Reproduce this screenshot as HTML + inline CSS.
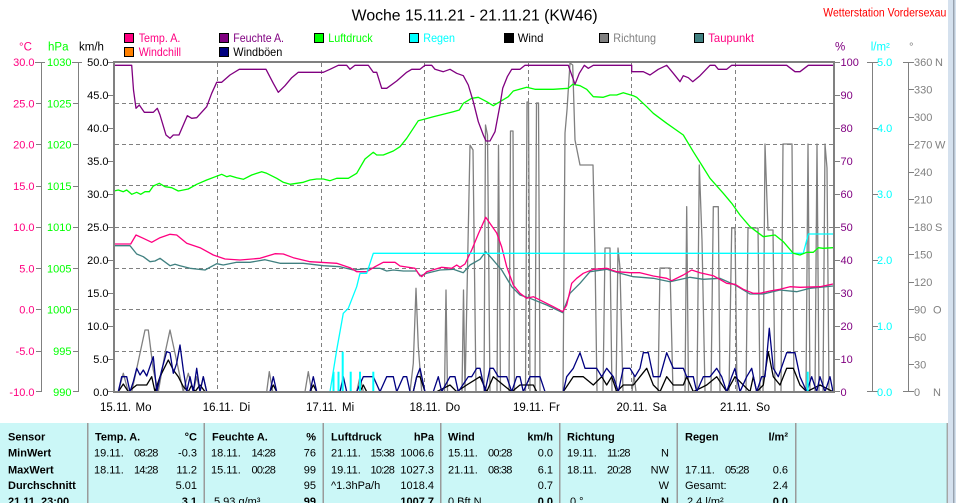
<!DOCTYPE html>
<html><head><meta charset="utf-8"><style>
html,body{margin:0;padding:0;background:#fff;}
svg{display:block;}
text{font-family:"Liberation Sans",Arial,sans-serif;}
.t{letter-spacing:-0.8px;}
</style></head><body>
<svg width="956" height="503" viewBox="0 0 956 503" xmlns="http://www.w3.org/2000/svg">
<rect x="0" y="0" width="956" height="503" fill="#fff"/>
<!-- right strip -->
<rect x="948" y="0" width="8" height="503" fill="#d5e1ee"/>
<rect x="953.3" y="0" width="1" height="503" fill="#7d8894"/>

<!-- title -->
<text x="351.7" y="20.5" font-size="15.5" fill="#000" textLength="246" lengthAdjust="spacingAndGlyphs">Woche 15.11.21 - 21.11.21 (KW46)</text>
<text x="823.3" y="16.7" font-size="11.5" fill="#ff0000" textLength="123" lengthAdjust="spacingAndGlyphs">Wetterstation Vordersexau</text>

<!-- legend -->
<g stroke="#000" stroke-width="1">
<rect x="124.5" y="33.5" width="9" height="9" fill="#ff0080"/>
<rect x="124.5" y="47.5" width="9" height="9" fill="#ff8000"/>
<rect x="219.5" y="33.5" width="9" height="9" fill="#800080"/>
<rect x="219.5" y="47.5" width="9" height="9" fill="#000080"/>
<rect x="314.5" y="33.5" width="9" height="9" fill="#00ff00"/>
<rect x="409.5" y="33.5" width="9" height="9" fill="#00ffff"/>
<rect x="504.5" y="33.5" width="9" height="9" fill="#000000"/>
<rect x="599.5" y="33.5" width="9" height="9" fill="#808080"/>
<rect x="694.5" y="33.5" width="9" height="9" fill="#408080"/>
</g>
<g font-size="12">
<text x="138.7" y="42" fill="#ff0080" textLength="41.7" lengthAdjust="spacingAndGlyphs">Temp. A.</text>
<text x="138.7" y="56" fill="#ff0080" textLength="42.3" lengthAdjust="spacingAndGlyphs">Windchill</text>
<text x="233.3" y="42" fill="#800080" textLength="50.7" lengthAdjust="spacingAndGlyphs">Feuchte A.</text>
<text x="233.3" y="56" fill="#000000" textLength="49" lengthAdjust="spacingAndGlyphs">Windböen</text>
<text x="328.3" y="42" fill="#00ff00" textLength="44.3" lengthAdjust="spacingAndGlyphs">Luftdruck</text>
<text x="423.3" y="42" fill="#00ffff" textLength="31.7" lengthAdjust="spacingAndGlyphs">Regen</text>
<text x="517.7" y="42" fill="#000000" textLength="25.7" lengthAdjust="spacingAndGlyphs">Wind</text>
<text x="613.3" y="42" fill="#808080" textLength="42.7" lengthAdjust="spacingAndGlyphs">Richtung</text>
<text x="708.3" y="42" fill="#ff0080" textLength="45.7" lengthAdjust="spacingAndGlyphs">Taupunkt</text>
</g>

<!-- axis headers -->
<g font-size="11.5">
<text x="19" y="50.5" fill="#ff0080">°C</text>
<text x="48" y="50.5" fill="#00ff00">hPa</text>
<text x="79" y="50.5" fill="#000">km/h</text>
<text x="835" y="50.5" fill="#800080">%</text>
<text x="870.7" y="50.5" fill="#00ffff">l/m²</text>
<text x="909" y="50.5" fill="#808080">°</text>
</g>

<!-- axis lines & ticks -->
<g stroke="#808080" stroke-width="1" fill="none">
<path d="M41.5 62V392 M78.5 62V392 M872.5 62V392 M908.5 62V392"/>
<path d="M35 62.5H45 M36 103.5H41 M36 144.5H41 M36 186.5H41 M36 227.5H41 M36 268.5H41 M36 309.5H41 M36 351.5H41 M36 391.5H41"/>
<path d="M72 62.5H82 M73 103.5H78 M73 144.5H78 M73 186.5H78 M73 227.5H78 M73 268.5H78 M73 309.5H78 M73 351.5H78 M73 391.5H78"/>
<path d="M108 62.5H113 M108 95.5H113 M108 128.5H113 M108 161.5H113 M108 194.5H113 M108 227.5H113 M108 260.5H113 M108 293.5H113 M108 326.5H113 M108 359.5H113 M108 391.5H113"/>
<path d="M835 62.5H840 M835 95.5H840 M835 128.5H840 M835 161.5H840 M835 194.5H840 M835 227.5H840 M835 260.5H840 M835 293.5H840 M835 326.5H840 M835 359.5H840 M835 391.5H840"/>
<path d="M867 62.5H878 M873 128.5H878 M873 194.5H878 M873 260.5H878 M873 326.5H878 M867 391.5H878"/>
<path d="M903 62.5H914 M909 89.5H914 M909 117.5H914 M909 144.5H914 M909 172.5H914 M909 199.5H914 M909 227.5H914 M909 254.5H914 M909 282.5H914 M909 309.5H914 M909 337.5H914 M909 364.5H914 M903 391.5H914"/>
</g>

<!-- left tick labels -->
<g font-size="11" fill="#ff0080" text-anchor="end">
<text x="34.5" y="66">30.0</text><text x="34.5" y="107.3">25.0</text><text x="34.5" y="148.5">20.0</text><text x="34.5" y="189.8">15.0</text><text x="34.5" y="231">10.0</text><text x="34.5" y="272.3">5.0</text><text x="34.5" y="313.5">0.0</text><text x="34.5" y="354.8">-5.0</text><text x="34.5" y="396">-10.0</text>
</g>
<g font-size="11" fill="#00ff00" text-anchor="end">
<text x="71.5" y="66">1030</text><text x="71.5" y="107.3">1025</text><text x="71.5" y="148.5">1020</text><text x="71.5" y="189.8">1015</text><text x="71.5" y="231">1010</text><text x="71.5" y="272.3">1005</text><text x="71.5" y="313.5">1000</text><text x="71.5" y="354.8">995</text><text x="71.5" y="396">990</text>
</g>
<g font-size="11" fill="#000" text-anchor="end">
<text x="108.5" y="66">50.0</text><text x="108.5" y="99">45.0</text><text x="108.5" y="132">40.0</text><text x="108.5" y="165">35.0</text><text x="108.5" y="198">30.0</text><text x="108.5" y="231">25.0</text><text x="108.5" y="264">20.0</text><text x="108.5" y="297">15.0</text><text x="108.5" y="330">10.0</text><text x="108.5" y="363">5.0</text><text x="108.5" y="396">0.0</text>
</g>
<!-- right tick labels -->
<g font-size="11" fill="#800080">
<text x="840.5" y="66">100</text><text x="840.5" y="99">90</text><text x="840.5" y="132">80</text><text x="840.5" y="165">70</text><text x="840.5" y="198">60</text><text x="840.5" y="231">50</text><text x="840.5" y="264">40</text><text x="840.5" y="297">30</text><text x="840.5" y="330">20</text><text x="840.5" y="363">10</text><text x="840.5" y="396">0</text>
</g>
<g font-size="11" fill="#00ffff">
<text x="877" y="66">5.0</text><text x="877" y="132">4.0</text><text x="877" y="198">3.0</text><text x="877" y="264">2.0</text><text x="877" y="330">1.0</text><text x="877" y="396">0.0</text>
</g>
<g font-size="11" fill="#808080">
<text x="914" y="66">360</text><text x="914" y="93.5">330</text><text x="914" y="121">300</text><text x="914" y="148.5">270</text><text x="914" y="176">240</text><text x="914" y="203.5">210</text><text x="914" y="231">180</text><text x="914" y="258.5">150</text><text x="914" y="286">120</text><text x="914" y="313.5">90</text><text x="914" y="341">60</text><text x="914" y="368.5">30</text><text x="914" y="396">0</text>
<text x="935" y="66">N</text><text x="935" y="148.5">W</text><text x="935" y="231">S</text><text x="933" y="313.5">O</text><text x="933" y="396">N</text>
</g>

<!-- plot area -->
<rect x="114" y="62" width="720" height="330" fill="#fff"/>
<g stroke="#808080" stroke-width="1" stroke-dasharray="4 3" fill="none">
<path d="M115 103.5H833 M115 144.5H833 M115 185.5H833 M115 227.5H833 M115 268.5H833 M115 309.5H833 M115 351.5H833"/>
<path d="M217.5 63V391 M321.5 63V391 M424.5 63V391 M528.5 63V391 M631.5 63V391 M735.5 63V391"/>
</g>

<g fill="none" stroke-width="1.3" stroke-linejoin="round">
<!-- direction -->
<polyline stroke="#808080" points="114,391.7 118.3,391.7 123.3,373.3 128.3,391.7 131.7,391.7 135,376.7 140,353.3 145,330 148.3,330 153.3,370 158.3,391.7 165,353.3 170,330 175,353.3 180,376.7 183.3,391.7 188.3,373.3 193.3,391.7 196.7,376.7 200,391.7 203.3,376.7 206.7,391.7 266.7,391.7 269.3,371.7 272.7,391.7 305,391.7 308.3,371.7 311.7,391.7 356.7,391.7 360,376.7 363.3,391.7 410,391.7 413.3,363.3 416,288.3 418.3,346.7 421.7,391.7 444.5,391.7 446,290 447.5,391.7 462,391.7 463.5,290 465,391.7 470,145 473,150 476,391.7 484,391.7 485.5,125 487.5,135 490,391.7 497,391.7 498.5,145 500.5,391.7 509,391.7 510.5,131 513,131 514.5,391.7 525.5,391.7 527,102 528.5,102 530,391.7 535,391.7 536.5,103 538.5,103 540,391.7 563,391.7 565,133 567,110 570,63 572.7,65 575,140 580,165 593,165 595,255 597,391.7 603,391.7 605,248 610,248 612,391.7 616,391.7 618,248 620,268 623,391.7 632,391.7 634,375 636,391.7 658,391.7 660,268 670,268 673,391.7 685,391.7 686.7,206.7 688.5,391.7 697,391.7 699.3,165 702,240 705,391.7 711,391.7 713.3,206.7 718.3,206.7 720,391.7 729,391.7 731.7,228 735,228 737,391.7 746,391.7 748,228 758,228 760,391.7 763,391.7 765,144 768,230 773,230 775,391.7 781,391.7 783,144 792,144 794,391.7 806,391.7 808,144 810,391.7 815,391.7 817,144 819,391.7 823,391.7 825,144 827,168 829,391.7 833,391.7"/>
<!-- wind -->
<polyline stroke="#000000" points="114,391.7 118.3,391.7 123.3,384 128.3,391.7 136.7,385 146.7,385 151.7,376.7 155,391.7 160,376.7 168.3,360 173.3,370 178.3,376.7 183.3,386.7 188.3,391.7 191.7,385 195,391.7 200,385 205,391.7 270,391.7 273.3,385 276.7,391.7 310,391.7 313.3,385 316.7,391.7 360,391.7 363.3,385 366.7,391.7 413.3,391.7 416.7,376.7 420,376.7 425,391.7 436.7,391.7 450,385 456.7,391.7 466.7,385 480,376.7 486.7,391.7 493.3,376.7 503.3,385 511.7,391.7 520,385 533.3,385 536.7,391.7 563.3,391.7 573.3,376.7 583.3,376.7 593.3,385 601.7,376.7 606.7,385 611.7,376.7 616.7,391.7 623.3,385 633.3,385 640,376.7 646.7,368.3 653.3,385 660,391.7 666.7,376.7 673.3,385 683.3,385 686.7,376.7 693.3,391.7 706.7,385 716.7,376.7 726.7,391.7 735,376.7 750,391.7 753.3,376.7 756.7,391.7 763.3,385 768.3,351.7 773.3,376.7 780,385 786.7,368.3 793.3,368.3 800,385 806.7,391.7 820,385 833,391.7"/>
<!-- gusts -->
<polyline stroke="#000080" points="114,391.7 118.3,391.7 121.7,376.7 126.7,376.7 130,391.7 133.3,381.7 136.7,368.3 140,375 143.3,370 146.7,376 153.3,356.7 156.7,391.7 161.7,370 166.7,351.7 170,352.7 173.3,373.3 176.7,363.3 180,345 183.3,370 186.7,391.7 190,376.7 193.3,391.7 196.7,368.3 200,391.7 203.3,376.7 206.7,391.7 270,391.7 273.3,376.7 276.7,391.7 310,391.7 313.3,376.7 316.7,391.7 340,391.7 343.3,376.7 346.7,391.7 356.7,391.7 363.3,376.7 373.3,376.7 380,391.7 386.7,376.7 393.3,376.7 396.7,391.7 403.3,376.7 406.7,376.7 410,391.7 413.3,391.7 416.7,376.7 420,368.3 425,391.7 433.3,391.7 438.3,376.7 441.7,391.7 450,376.7 455,376.7 458.3,391.7 468.3,376.7 471.7,376.7 476.7,368.3 480,368.3 485,391.7 490,368.3 493.3,368.3 498.3,376.7 506.7,376.7 511.7,391.7 516.7,376.7 520,376.7 523.3,391.7 530,376.7 540,376.7 545,391.7 563.3,391.7 566.7,376.7 573.3,368.3 580,352.7 585,368.3 596.7,368.3 601.7,376.7 606.7,368.3 613.3,376.7 618.3,391.7 623.3,368.3 630,368.3 635,376.7 640,368.3 643.3,352.7 648.3,352.7 653.3,376.7 660,376.7 666.7,352.7 673.3,368.3 683.3,368.3 686.7,376.7 693.3,376.7 696.7,391.7 703.3,376.7 710,376.7 716.7,368.3 721.7,376.7 726.7,391.7 731.7,376.7 735,368.3 740,391.7 746.7,376.7 751.7,368.3 756.7,391.7 761.7,376.7 765,376.7 769.3,328.3 773.3,368.3 778.3,376.7 786.7,352.7 795,352.7 800,376.7 806.7,391.7 811.7,376.7 816.7,391.7 820,376.7 825,391.7 830,376.7 833,391.7"/>
<!-- dewpoint -->
<polyline stroke="#408080" points="114,245.7 130,245.7 136.7,254 143.3,256.7 150,261.7 155,261 160,258.3 170,265.7 175,264.3 180,265.7 190,268.3 205,270 216.7,263.7 223.3,265 236.7,262.3 250,262.3 265,259.7 280,263.3 303.3,263.3 323.3,265.7 340,266.7 353.3,270 370,268.3 380,268.3 386.7,271 393.3,270 403.3,271 416.7,271 420,276 426.7,273.3 440,270 453.3,269.3 463.3,272.7 470,265 480,259.3 485.7,251.7 491.7,258.3 501.7,270 511.7,286.7 520,295 530,298.3 546.7,305 562.7,312.7 570,293.3 580,283.3 590,271.7 606.7,269.3 620,273.3 633.3,276.7 653.3,278.3 670,281.7 690,277.3 703.3,279.3 720,278.3 735,285 750,294 763.3,294 780,290 796.7,291.7 810,288.3 833,286"/>
<!-- temp -->
<polyline stroke="#ff0080" points="114,244 130.7,244 136,235 143.3,238.3 151.7,242.3 160,237.7 170,234.3 176.7,235 186.7,243.3 200,247.7 213.3,255 225,259 240,260 260,258.3 275,253.7 283.3,254 293.3,257.7 310,261.7 336.7,263.3 350,267.7 356.7,271.7 366.7,271.7 375,266.7 383.3,262.3 395,262.3 400,266 415,268.3 418.3,273.3 421.7,276.7 426.7,271.7 441.7,267.3 451.7,268.3 456.7,265 460,267.3 465,264 471.7,250 478.3,234 485.7,217.3 496.7,233 501.7,247 506.7,266.7 513.3,285 520,293.3 526.7,298.3 533.3,296.7 543.3,301.7 553.3,306.7 562.7,311.7 566.7,305 571.7,283.3 576.7,278.3 583.3,273.3 593.3,269.3 606.7,268.3 616.7,271.7 630,272.7 640,272.7 653.3,276 666.7,278.3 671.7,280.7 683.3,275 691.7,270 700,272.7 713.3,275.7 726.7,283.3 735,284.3 743.3,289.3 753.3,293.3 760,293.3 770,291 780,289.3 790,286.7 800,287.3 820,286.7 833,284"/>
<!-- rain cumulative -->
<polyline stroke="#00ffff" points="330,391.7 336.7,350 343.3,313.3 348.3,308.3 356.7,286.7 360,273.3 366.7,273.3 373.3,253.3 803.3,253.3 808.3,234 833,234"/>
<!-- pressure -->
<polyline stroke="#00ff00" points="114,191 118.3,190 123.3,191.7 126.7,190 131.7,194.3 136.7,192.3 140.7,194.3 145,191.7 149.3,191.7 153.3,186 159.3,183.3 165,186.7 171.7,187.7 178.3,191 188.3,189 196.7,184.3 206.7,180 221.7,174.3 226.7,176.7 230,175.7 236.7,177.7 243.3,179.3 251.7,175 261.7,171.7 266.7,173.3 276.7,178.3 283.3,182.3 290,184.3 303.3,182.3 310,180 316.7,179 323.3,179 330,180.7 336.7,178.3 348.3,178.3 356.7,173.3 365,159 373.3,152.3 376.7,155 383.3,155 393.3,151 400,146.7 406.7,138.3 413.3,128.3 418.3,120.7 425,119 433.3,116.7 443.3,114.3 453.3,111.7 459.3,110 463.3,103.3 471.7,98.3 478.3,97.3 486.7,101.7 493.3,105.7 500,101.7 508.3,96.7 513.3,91 526.7,87.3 535,89.3 553.3,89.3 568.3,88.3 572.7,84.3 580,85.7 586.7,89.3 593.3,96.7 603.3,97.3 610,95 616.7,95 623.3,92.7 633.3,95.7 636.7,97.3 646.7,106.7 653.3,113.3 666.7,123.3 683.3,135 693.3,151.7 701.7,165 710,178.3 723.3,193.3 731.7,203.3 740,215 750,226.7 763.3,236.7 775,235 783.3,241.7 793.3,253.3 800,255 806.7,252.3 813.3,252.3 818.3,247.7 823.3,248.3 833,247.7"/>
<!-- humidity -->
<polyline stroke="#800080" points="114,65.3 131.7,65.3 133.5,90 136,108.3 139.3,105 144.3,112.3 153.3,112.3 157.3,108.3 160,115 166,135 170,138.3 173.3,135 179,135 187.3,115.7 191.7,118.3 196.7,117.7 206.7,106.7 211.7,93.3 216.7,82.3 221.7,82.3 230,75 239.3,69.3 266,69.3 273.3,83.3 278.3,92.3 285,85.7 291.7,77.7 298.3,72.3 323.3,72.3 330,69.3 338.3,65.3 346.7,65.3 350,69.3 355,65.3 368.3,65.3 373.3,72.3 376.7,72.3 381.7,88.3 386.7,88.3 396.7,81 406.7,72.3 411.7,69.3 420,69.3 425,65.3 431.7,65.3 435,69.3 443.3,71.7 450,69.3 456.7,73.3 463.3,75.7 468.3,85 473.3,101.7 478.3,121.7 483.3,135 486,141 490,141 495,131.7 500,105 502.7,88.3 507.3,76.7 511.7,69.3 520,69.3 525,65.3 568.3,65.3 575,84.3 579.3,73.3 584.3,65.3 588.3,68.3 593.3,65.3 631.7,65.3 631.7,71.7 643.3,71.7 650,75 658.3,69.3 666.7,65.3 673.3,73.3 680,81.7 683.3,75.7 688.3,77.7 692.7,81.7 700,75.7 710,65.3 715,65.3 718.3,69.3 726.7,69.3 731.7,65.3 786.7,65.3 795,71.7 800,71.7 808.3,65.3 833,65.3"/>
</g>
<!-- rain bars -->
<g fill="#00ffff">
<rect x="332.5" y="371.7" width="2" height="20"/>
<rect x="337.5" y="371.7" width="2" height="20"/>
<rect x="341.7" y="351.7" width="2" height="40"/>
<rect x="349.7" y="371.7" width="2" height="20"/>
<rect x="359" y="371.7" width="2" height="20"/>
<rect x="372.3" y="371.7" width="2" height="20"/>
<rect x="806.7" y="371.7" width="2" height="20"/>
</g>

<!-- plot border -->
<rect x="114" y="62" width="720" height="330" fill="none" stroke="#808080" stroke-width="2"/>

<!-- x labels -->
<g font-size="11.5" fill="#000">
<text x="100" y="411">15.11.</text><text x="135.5" y="411">Mo</text>
<text x="202.7" y="411">16.11.</text><text x="239.3" y="411">Di</text>
<text x="306" y="411">17.11.</text><text x="342" y="411">Mi</text>
<text x="409.5" y="411">18.11.</text><text x="445.5" y="411">Do</text>
<text x="513" y="411">19.11.</text><text x="549" y="411">Fr</text>
<text x="616.5" y="411">20.11.</text><text x="652.5" y="411">Sa</text>
<text x="720" y="411">21.11.</text><text x="756" y="411">So</text>
</g>

<!-- table -->
<rect x="0" y="423" width="947" height="80" fill="#cbf7f7"/>
<rect x="946.7" y="423" width="1" height="80" fill="#808080"/>
<g fill="#9a9a9a">
<rect x="87" y="423" width="1.5" height="80"/>
<rect x="203.5" y="423" width="1.5" height="80"/>
<rect x="322.5" y="423" width="1.5" height="80"/>
<rect x="440" y="423" width="1.5" height="80"/>
<rect x="559" y="423" width="1.5" height="80"/>
<rect x="676.5" y="423" width="1.5" height="80"/>
<rect x="795" y="423" width="1.5" height="80"/>
</g>
<g font-size="11" fill="#000">
<g font-weight="bold">
<text x="8" y="440.7">Sensor</text>
<text x="8" y="456.7">MinWert</text>
<text x="8" y="473.3">MaxWert</text>
<text x="8" y="489">Durchschnitt</text>
<text x="8" y="505">21.11. 23:00</text>
<text x="95" y="440.7">Temp. A.</text>
<text x="197" y="440.7" text-anchor="end">°C</text>
<text x="212" y="440.7">Feuchte A.</text>
<text x="316" y="440.7" text-anchor="end">%</text>
<text x="331" y="440.7">Luftdruck</text>
<text x="434" y="440.7" text-anchor="end">hPa</text>
<text x="448" y="440.7">Wind</text>
<text x="553" y="440.7" text-anchor="end">km/h</text>
<text x="567" y="440.7">Richtung</text>
<text x="685" y="440.7">Regen</text>
<text x="788" y="440.7" text-anchor="end">l/m²</text>
<text x="197" y="505" text-anchor="end">3.1</text>
<text x="316" y="505" text-anchor="end">99</text>
<text x="434" y="505" text-anchor="end">1007.7</text>
<text x="553" y="505" text-anchor="end">0.0</text>
<text x="669" y="505" text-anchor="end">N</text>
<text x="788" y="505" text-anchor="end">0.0</text>
</g>
<!-- temp col -->
<text x="94" y="456.7">19.11.</text><text class="t" x="134" y="456.7">08:28</text><text x="197" y="456.7" text-anchor="end">-0.3</text>
<text x="94" y="473.3">18.11.</text><text class="t" x="134" y="473.3">14:28</text><text x="197" y="473.3" text-anchor="end">11.2</text>
<text x="197" y="489" text-anchor="end">5.01</text>
<!-- hum col -->
<text x="211" y="456.7">18.11.</text><text class="t" x="251.5" y="456.7">14:28</text><text x="316" y="456.7" text-anchor="end">76</text>
<text x="211" y="473.3">15.11.</text><text class="t" x="251.5" y="473.3">00:28</text><text x="316" y="473.3" text-anchor="end">99</text>
<text x="316" y="489" text-anchor="end">95</text>
<text x="214" y="505">5.93 g/m³</text>
<!-- pressure col -->
<text x="331" y="456.7">21.11.</text><text class="t" x="370.5" y="456.7">15:38</text><text x="434" y="456.7" text-anchor="end">1006.6</text>
<text x="331" y="473.3">19.11.</text><text class="t" x="370.5" y="473.3">10:28</text><text x="434" y="473.3" text-anchor="end">1027.3</text>
<text x="331" y="489">^1.3hPa/h</text><text x="434" y="489" text-anchor="end">1018.4</text>
<!-- wind col -->
<text x="448" y="456.7">15.11.</text><text class="t" x="488" y="456.7">00:28</text><text x="553" y="456.7" text-anchor="end">0.0</text>
<text x="448" y="473.3">21.11.</text><text class="t" x="488" y="473.3">08:38</text><text x="553" y="473.3" text-anchor="end">6.1</text>
<text x="553" y="489" text-anchor="end">0.7</text>
<text x="448" y="505">0 Bft N</text>
<!-- direction col -->
<text x="567" y="456.7">19.11.</text><text class="t" x="607" y="456.7">11:28</text><text x="669" y="456.7" text-anchor="end">N</text>
<text x="567" y="473.3">18.11.</text><text class="t" x="607" y="473.3">20:28</text><text x="669" y="473.3" text-anchor="end">NW</text>
<text x="669" y="489" text-anchor="end">W</text>
<text x="570" y="505">0 °</text>
<!-- rain col -->
<text x="685" y="473.3">17.11.</text><text class="t" x="725" y="473.3">05:28</text><text x="788" y="473.3" text-anchor="end">0.6</text>
<text x="685" y="489">Gesamt:</text><text x="788" y="489" text-anchor="end">2.4</text>
<text x="687" y="505">2.4 l/m²</text>
</g>
</svg>
</body></html>
